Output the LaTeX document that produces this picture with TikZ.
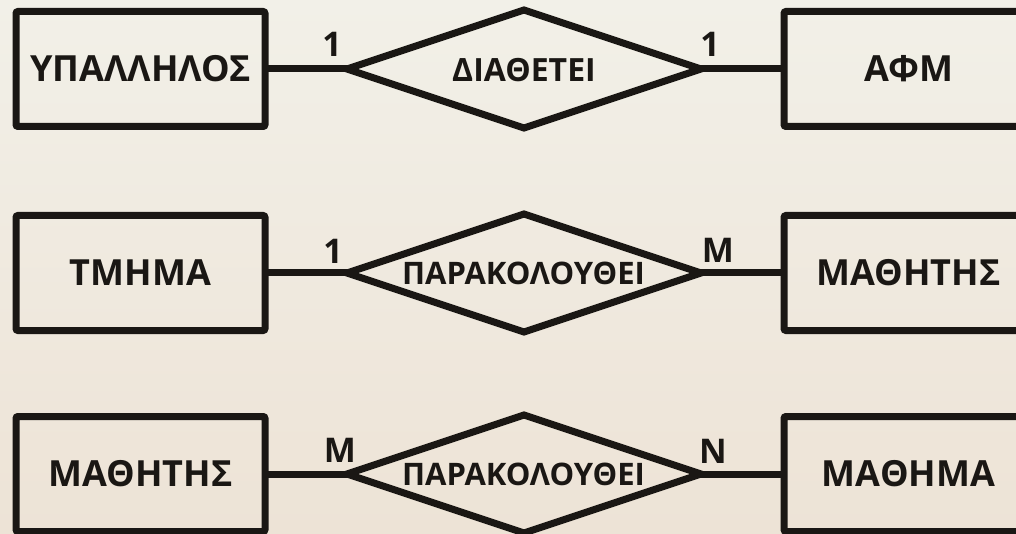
\documentclass[tikz,border=0pt]{standalone}
\usepackage{fontspec}
\setmainfont{Open Sans}
\usetikzlibrary{shapes.geometric}
\definecolor{ink}{HTML}{1A1714}
\definecolor{bgtop}{HTML}{F2F0E8}
\definecolor{bgbot}{HTML}{EDE3D6}
\tikzset{
  entity/.style={draw=ink, line width=7pt, rounded corners=2pt, minimum width=249pt, minimum height=115pt, inner sep=0pt, outer sep=0pt},
  relbox/.style={draw=ink, line width=7pt, diamond, minimum width=354pt, minimum height=118pt, inner sep=0pt, outer sep=0pt, miter limit=10},
  bigtxt/.style={text=ink, font=\bfseries\fontsize{36}{40}\selectfont, inner sep=0pt},
  reltxt/.style={text=ink, font=\bfseries\fontsize{31}{34}\selectfont, inner sep=0pt},
  card/.style={text=ink, font=\bfseries\fontsize{34}{38}\selectfont, inner sep=0pt},
  conn/.style={draw=ink, line width=7pt}
}
\begin{document}
\begin{tikzpicture}[x=1pt,y=-1pt]
\clip (0,0) rectangle (1016,534);
\shade[top color=bgtop, bottom color=bgbot] (0,0) rectangle (1016,534);
% row 1
\node[entity] (e1) at (140.5,69) {};
\node[bigtxt] (t1) at (e1.center) {ΥΠΑΛΛΗΛΟΣ};
\node[relbox] (r1) at (524,69) {};
\node[bigtxt, font=\bfseries\fontsize{32}{36}\selectfont] (rt1) at (524,70.5) {ΔΙΑΘΕΤΕΙ};
\node[entity] (f1) at (908.5,69) {};
\node[bigtxt] (u1) at (f1.center) {ΑΦΜ};
\draw[conn] (e1.east) -- (r1.west);
\draw[conn] (r1.east) -- (f1.west);
\node[card] (c1a) at (332,44) {1};
\node[card] (c1b) at (710,44.5) {1};
% row 2
\node[entity] (e2) at (140.5,273) {};
\node[bigtxt] (t2) at (e2.center) {ΤΜΗΜΑ};
\node[relbox] (r2) at (524,273) {};
\node[reltxt] (rt2) at (523.5,273) {ΠΑΡΑΚΟΛΟΥΘΕΙ};
\node[entity] (f2) at (908.5,273) {};
\node[bigtxt] (u2) at (f2.center) {ΜΑΘΗΤΗΣ};
\draw[conn] (e2.east) -- (r2.west);
\draw[conn] (r2.east) -- (f2.west);
\node[card] (c2a) at (333,251) {1};
\node[card] (c2b) at (718,250) {Μ};
% row 3
\node[entity] (e3) at (140.5,474) {};
\node[bigtxt] (t3) at (e3.center) {ΜΑΘΗΤΗΣ};
\node[relbox] (r3) at (524,474) {};
\node[reltxt] (rt3) at (523.5,474) {ΠΑΡΑΚΟΛΟΥΘΕΙ};
\node[entity] (f3) at (908.5,474) {};
\node[bigtxt] (u3) at (f3.center) {ΜΑΘΗΜΑ};
\draw[conn] (e3.east) -- (r3.west);
\draw[conn] (r3.east) -- (f3.west);
\node[card] (c3a) at (340,450) {Μ};
\node[card] (c3b) at (713,451.5) {Ν};
\end{tikzpicture}
\end{document}
